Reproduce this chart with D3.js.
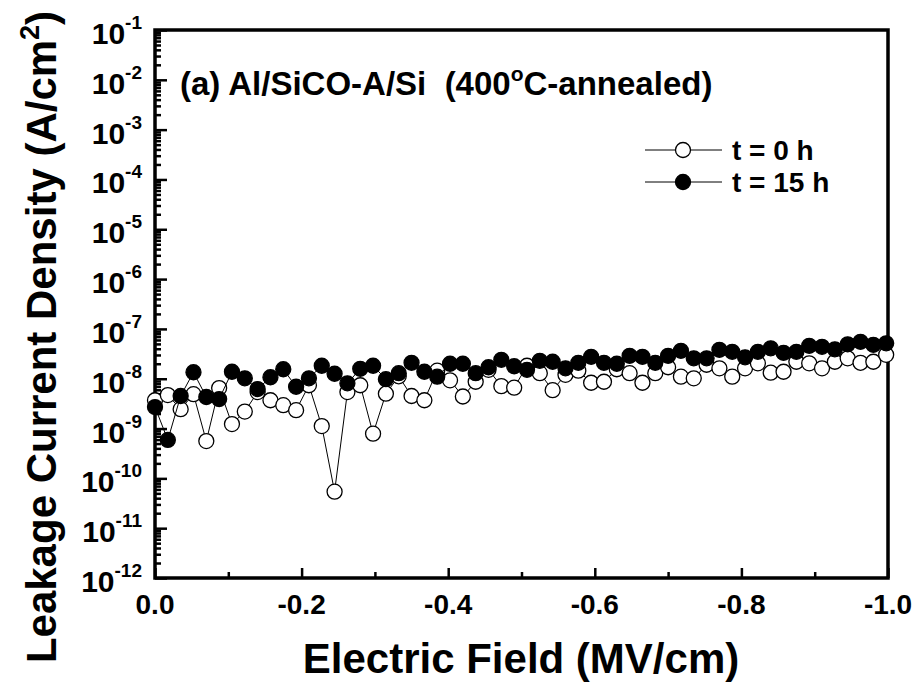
<!DOCTYPE html>
<html>
<head>
<meta charset="utf-8">
<script src="https://cdn.jsdelivr.net/npm/d3@7"></script>
<style>
  body { margin: 0; background: #fff; }
  svg { font-family: "Liberation Sans", Arial, sans-serif; font-weight: bold; }
</style>
</head>
<body>
<div id="chart"></div>
<script>
// Electric field (MV/cm) for each measured point
const field = [0, -0.0175, -0.035, -0.0525, -0.07, -0.0875, -0.105, -0.1225, -0.14, -0.1575,
  -0.175, -0.1925, -0.21, -0.2275, -0.245, -0.2625, -0.28, -0.2975, -0.315, -0.3325,
  -0.35, -0.3675, -0.385, -0.4025, -0.42, -0.4375, -0.455, -0.4725, -0.49, -0.5075,
  -0.525, -0.5425, -0.56, -0.5775, -0.595, -0.6125, -0.63, -0.6475, -0.665, -0.6825,
  -0.70, -0.7175, -0.735, -0.7525, -0.77, -0.7875, -0.805, -0.8225, -0.84, -0.8575,
  -0.875, -0.8925, -0.91, -0.9275, -0.945, -0.9625, -0.98, -0.9975];

// leakage current density (A/cm2), t = 0 h (open circles)
const j0h = [3.7e-9, 4.7e-9, 2.45e-9, 4.9e-9, 5.6e-10, 6.5e-9, 1.23e-9, 2.19e-9, 5.4e-9, 3.7e-9,
  2.95e-9, 2.34e-9, 7.4e-9, 1.12e-9, 5.4e-11, 5.4e-9, 7.4e-9, 7.9e-10, 5.0e-9, 1.12e-8,
  4.5e-9, 3.7e-9, 1.45e-8, 9.3e-9, 4.4e-9, 8.7e-9, 1.51e-8, 7.1e-9, 6.6e-9, 1.82e-8,
  1.29e-8, 5.9e-9, 1.2e-8, 1.45e-8, 8.3e-9, 8.7e-9, 1.55e-8, 1.29e-8, 8.3e-9, 1.29e-8,
  1.70e-8, 1.10e-8, 1.02e-8, 1.91e-8, 1.62e-8, 1.10e-8, 1.62e-8, 2.04e-8, 1.32e-8, 1.38e-8,
  2.19e-8, 2.04e-8, 1.62e-8, 2.19e-8, 2.57e-8, 2.09e-8, 2.19e-8, 3.02e-8];

// t = 15 h (filled circles)
const j15h = [2.7e-9, 5.9e-10, 4.5e-9, 1.35e-8, 4.3e-9, 3.9e-9, 1.38e-8, 1.02e-8, 6.2e-9, 1.07e-8,
  1.55e-8, 6.9e-9, 1.02e-8, 1.82e-8, 1.26e-8, 8.1e-9, 1.58e-8, 1.82e-8, 9.8e-9, 1.29e-8,
  2.09e-8, 1.38e-8, 1.10e-8, 2.0e-8, 2.0e-8, 1.29e-8, 1.70e-8, 2.40e-8, 1.78e-8, 1.51e-8,
  2.29e-8, 2.19e-8, 1.62e-8, 2.09e-8, 2.75e-8, 2.09e-8, 2.0e-8, 2.88e-8, 2.75e-8, 2.09e-8,
  2.88e-8, 3.63e-8, 2.57e-8, 2.57e-8, 3.8e-8, 3.47e-8, 2.69e-8, 3.47e-8, 4.07e-8, 3.31e-8,
  3.47e-8, 4.57e-8, 4.37e-8, 3.89e-8, 4.9e-8, 5.5e-8, 4.79e-8, 5.13e-8];

const xTicks = [0, -0.2, -0.4, -0.6, -0.8, -1.0];
const xMinorTicks = [-0.1, -0.3, -0.5, -0.7, -0.9];
const yExponents = [-1, -2, -3, -4, -5, -6, -7, -8, -9, -10, -11, -12];
const legendLabels = ["t = 0 h", "t = 15 h"];

const width = 919, height = 686;
const margin = { top: 30, right: 31, bottom: 108, left: 155 };

const svg = d3.select("#chart").append("svg")
  .attr("width", width)
  .attr("height", height);

const x = d3.scaleLinear()
  .domain([0, -1])
  .range([margin.left, width - margin.right]);

const y = d3.scaleLog()
  .domain([1e-12, 1e-1])
  .range([height - margin.bottom, margin.top]);

// minor ticks on the log axis: 2..9 in each decade
const yMinor = [];
yExponents.slice(1).forEach(e => {
  for (let m = 2; m <= 9; m++) yMinor.push(m * Math.pow(10, e));
});

// left axis ticks (inward)
svg.append("g")
  .attr("transform", `translate(${margin.left},0)`)
  .call(d3.axisRight(y).tickValues(yMinor).tickSize(6).tickFormat(""))
  .call(g => g.select(".domain").remove())
  .call(g => g.selectAll("line").attr("stroke-width", 2.5));

svg.append("g")
  .attr("transform", `translate(${margin.left},0)`)
  .call(d3.axisRight(y).tickValues(yExponents.map(e => Math.pow(10, e))).tickSize(12).tickFormat(""))
  .call(g => g.select(".domain").remove())
  .call(g => g.selectAll("line").attr("stroke-width", 2.5));

// bottom axis ticks (inward)
const xBase = height - margin.bottom;
svg.append("g")
  .attr("transform", `translate(0,${xBase})`)
  .call(d3.axisTop(x).tickValues(xMinorTicks).tickSize(6).tickFormat(""))
  .call(g => g.select(".domain").remove())
  .call(g => g.selectAll("line").attr("stroke-width", 2.5));

svg.append("g")
  .attr("transform", `translate(0,${xBase})`)
  .call(d3.axisTop(x).tickValues(xTicks).tickSize(10).tickFormat(""))
  .call(g => g.select(".domain").remove())
  .call(g => g.selectAll("line").attr("stroke-width", 2.5));

// frame
svg.append("rect")
  .attr("x", margin.left)
  .attr("y", margin.top)
  .attr("width", width - margin.left - margin.right)
  .attr("height", height - margin.top - margin.bottom)
  .attr("fill", "none")
  .attr("stroke", "#000")
  .attr("stroke-width", 3.5);

// x tick labels
svg.append("g").selectAll("text")
  .data(xTicks)
  .join("text")
  .attr("x", d => x(d))
  .attr("y", xBase + 36)
  .attr("text-anchor", "middle")
  .attr("font-size", 28)
  .text(d => d3.format(".1f")(d).replace("−", "-"));

// y tick labels 10^n
const yl = svg.append("g").selectAll("text")
  .data(yExponents)
  .join("text")
  .attr("x", margin.left - 13)
  .attr("y", d => y(Math.pow(10, d)) + 14)
  .attr("text-anchor", "end")
  .attr("font-size", 30);
yl.append("tspan").text("10");
yl.append("tspan")
  .attr("dy", -15)
  .attr("font-size", 19)
  .text(d => String(d));

// axis titles
svg.append("text")
  .attr("x", 521)
  .attr("y", 673)
  .attr("text-anchor", "middle")
  .attr("font-size", 42)
  .text("Electric Field (MV/cm)");

const yt = svg.append("text")
  .attr("transform", "translate(56,337) rotate(-90)")
  .attr("text-anchor", "middle")
  .attr("font-size", 42);
yt.append("tspan").text("Leakage Current Density (A/cm");
yt.append("tspan").attr("dy", -17).attr("font-size", 27).text("2");
yt.append("tspan").attr("dy", 17).text(")");

// panel label
const pl = svg.append("text")
  .attr("x", 180)
  .attr("y", 95)
  .attr("font-size", 33)
  .style("white-space", "pre");
pl.append("tspan").text("(a) Al/SiCO-A/Si  (400");
pl.append("tspan").attr("dy", -14).attr("font-size", 21).text("o");
pl.append("tspan").attr("dy", 14).text("C-annealed)");

// series
const line = d3.line()
  .x(d => x(d[0]))
  .y(d => y(d[1]));

const series = [
  { values: j0h, fill: "#fff" },
  { values: j15h, fill: "#000" }
];

series.forEach(s => {
  const pts = field.map((f, i) => [f, s.values[i]]);
  const g = svg.append("g");
  g.append("path")
    .datum(pts)
    .attr("d", line)
    .attr("fill", "none")
    .attr("stroke", "#000")
    .attr("stroke-width", 1);
  g.selectAll("circle")
    .data(pts)
    .join("circle")
    .attr("cx", d => x(d[0]))
    .attr("cy", d => y(d[1]))
    .attr("r", 7.5)
    .attr("fill", s.fill)
    .attr("stroke", "#000")
    .attr("stroke-width", 1.3);
});

// legend
const legend = svg.append("g");
series.forEach((s, i) => {
  const ly = 150 + i * 32;
  legend.append("line")
    .attr("x1", 645).attr("x2", 722)
    .attr("y1", ly).attr("y2", ly)
    .attr("stroke", "#000").attr("stroke-width", 1);
  legend.append("circle")
    .attr("cx", 683).attr("cy", ly).attr("r", 7.5)
    .attr("fill", s.fill).attr("stroke", "#000").attr("stroke-width", 1.3);
  legend.append("text")
    .attr("x", 732).attr("y", ly + 10)
    .attr("font-size", 28)
    .text(legendLabels[i]);
});
</script>
</body>
</html>
